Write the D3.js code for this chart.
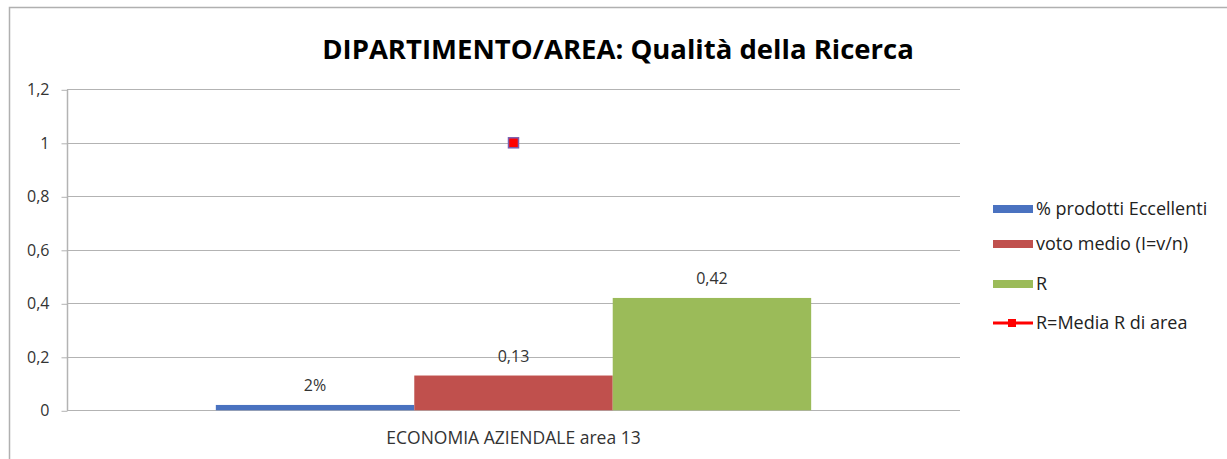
<!DOCTYPE html>
<html><head><meta charset="utf-8">
<script src="https://cdn.jsdelivr.net/npm/d3@7"></script>
<style>html,body{margin:0;padding:0;background:#fff;}svg{display:block;}</style>
</head><body>
<svg id="c" width="1227" height="459"></svg>
<script>
const categories = ["ECONOMIA AZIENDALE area 13"];
const seriesNames = ["% prodotti Eccellenti", "voto medio (I=v/n)", "R"];
const seriesValues = [0.02, 0.13, 0.42];
const seriesLabels = ["2%", "0,13", "0,42"];
const seriesColors = ["#4a72c0", "#c0504d", "#9bbb59"];
const lineName = "R=Media R di area";
const lineValues = [1];
const yTicks = [0, 0.2, 0.4, 0.6, 0.8, 1, 1.2];
const yTickLabels = ["0", "0,2", "0,4", "0,6", "0,8", "1", "1,2"];

const svg = d3.select("#c");
const font = "'Open Sans', 'Liberation Sans', sans-serif";

// outer frame
svg.append("rect").attr("x", 9.5).attr("y", 7.5).attr("width", 1230).attr("height", 470)
  .attr("fill", "none").attr("stroke", "#b0b0b0").attr("stroke-width", 1.5);

const L = 67, R = 960, T = 89.3, B = 410.3;
const y = d3.scaleLinear().domain([0, 1.2]).range([B, T]);
const x = d3.scaleBand().domain(categories).range([L, R]).paddingInner(0).paddingOuter(0.25);
const xs = d3.scaleBand().domain(seriesNames).range([0, x.bandwidth()]).padding(0);

// gridlines
svg.append("g").selectAll("line").data(yTicks).join("line")
  .attr("x1", L).attr("x2", R).attr("y1", d => Math.round(y(d)) + 0.5).attr("y2", d => Math.round(y(d)) + 0.5)
  .attr("stroke", "#b3b3b3").attr("stroke-width", 1.2);

// y axis
const yAxis = d3.axisLeft(y).tickValues(yTicks).tickFormat((d, i) => yTickLabels[i]).tickSize(6).tickPadding(12);
const gy = svg.append("g").attr("transform", `translate(${L + 0.5},0.5)`).call(yAxis);
gy.select(".domain").attr("stroke", "#b3b3b3").attr("stroke-width", 1.5).attr("d", `M0,${T}V${B}`);
gy.selectAll(".tick line").attr("stroke", "#b3b3b3");
gy.selectAll(".tick text").attr("font-family", font).attr("font-size", 16).attr("fill", "#333");

// bars
const g = svg.append("g");
categories.forEach((c, ci) => {
  seriesNames.forEach((s, si) => {
    const v = seriesValues[si];
    const x0 = x(c) + xs(s);
    g.append("rect").attr("x", x0).attr("y", y(v)).attr("width", xs.bandwidth()).attr("height", y(0) - y(v))
      .attr("fill", seriesColors[si]);
    g.append("text").attr("x", x0 + xs.bandwidth() / 2).attr("y", y(v) - 14)
      .attr("text-anchor", "middle").attr("font-family", font).attr("font-size", 16).attr("fill", "#333")
      .text(seriesLabels[si]);
  });
  // line series marker
  const cx = x(c) + x.bandwidth() / 2;
  svg.append("rect").attr("x", cx - 5).attr("y", y(lineValues[ci]) - 5).attr("width", 10).attr("height", 10)
    .attr("fill", "#ff0000").attr("stroke", "#7a5fb0").attr("stroke-width", 1.5);
  svg.append("text").attr("x", cx).attr("y", 444).attr("text-anchor", "middle")
    .attr("font-family", font).attr("font-size", 17.5).attr("fill", "#333").text(c);
});

// title
svg.append("text").attr("x", 618).attr("y", 59).attr("text-anchor", "middle")
  .attr("font-family", font).attr("font-weight", "bold").attr("font-size", 27.5).attr("fill", "#000")
  .text("DIPARTIMENTO/AREA: Qualità della Ricerca");

// legend
const legY = [209, 244, 284, 323];
const lg = svg.append("g");
seriesNames.forEach((s, i) => {
  lg.append("rect").attr("x", 993).attr("y", legY[i] - 4).attr("width", 40).attr("height", 8).attr("fill", seriesColors[i]);
  lg.append("text").attr("x", 1036).attr("y", legY[i] + 6).attr("font-family", font).attr("font-size", 18).attr("fill", "#222").text(s);
});
lg.append("line").attr("x1", 993).attr("x2", 1033).attr("y1", legY[3]).attr("y2", legY[3]).attr("stroke", "#ff0000").attr("stroke-width", 3);
lg.append("rect").attr("x", 1008).attr("y", legY[3] - 4).attr("width", 8).attr("height", 8).attr("fill", "#ff0000");
lg.append("text").attr("x", 1036).attr("y", legY[3] + 6).attr("font-family", font).attr("font-size", 18).attr("fill", "#222").text(lineName);
</script>
</body></html>
